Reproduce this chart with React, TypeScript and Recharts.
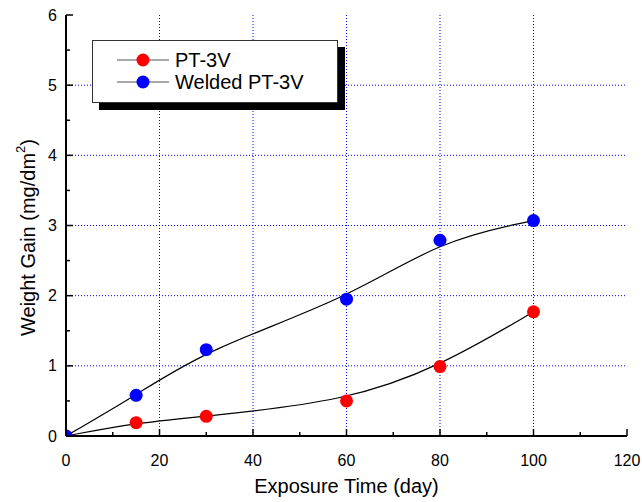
import React from "react";
import { ComposedChart, Line, XAxis, YAxis, ReferenceLine, Legend } from "recharts";

// exposure days and weight gain (mg/dm2)
const days = [0, 15, 30, 60, 80, 100];
const pt3v = [0, 0.19, 0.28, 0.5, 0.99, 1.77];
const weldedPt3v = [0, 0.58, 1.23, 1.95, 2.79, 3.07];

const xTicks = [0, 10, 20, 30, 40, 50, 60, 70, 80, 90, 100, 110, 120];
const yTicks = [0, 0.5, 1, 1.5, 2, 2.5, 3, 3.5, 4, 4.5, 5, 5.5, 6];
const xGrid = [20, 40, 60, 80, 100];
const yGrid = [1, 2, 3, 4, 5];

const series = [
  { key: "pt", name: "PT-3V", color: "#ff0000" },
  { key: "welded", name: "Welded PT-3V", color: "#0000ff" },
];

const data = days.map((d, i) => ({ day: d, pt: pt3v[i], welded: weldedPt3v[i] }));

const FONT = "Arial, 'Liberation Sans', sans-serif";
const AXIS = { stroke: "#000", strokeWidth: 2 };

const isMajorX = (v: number) => v % 20 === 0;
const isMajorY = (v: number) => v % 1 === 0;

const BottomTick = (p: any) => {
  const major = isMajorX(p.payload.value);
  return (
    <g>
      <line x1={p.x} x2={p.x} y1={p.y} y2={p.y - (major ? 7 : 4)} stroke="#000" strokeWidth={1.5} />
      {major && (
        <text x={p.x} y={p.y + 24} textAnchor="middle" dominantBaseline="central" fontSize={16} fontFamily={FONT} fill="#000">
          {p.payload.value}
        </text>
      )}
    </g>
  );
};

const TopTick = (p: any) => {
  const major = isMajorX(p.payload.value);
  return <line x1={p.x} x2={p.x} y1={p.y} y2={p.y + (major ? 7 : 4)} stroke="#000" strokeWidth={1.5} />;
};

const LeftTick = (p: any) => {
  const major = isMajorY(p.payload.value);
  return (
    <g>
      <line x1={p.x} x2={p.x + (major ? 7 : 4)} y1={p.y} y2={p.y} stroke="#000" strokeWidth={1.5} />
      {major && (
        <text x={p.x - 9} y={p.y} textAnchor="end" dominantBaseline="central" fontSize={16} fontFamily={FONT} fill="#000">
          {p.payload.value}
        </text>
      )}
    </g>
  );
};

const RightTick = (p: any) => {
  const major = isMajorY(p.payload.value);
  return <line x1={p.x} x2={p.x - (major ? 7 : 4)} y1={p.y} y2={p.y} stroke="#000" strokeWidth={1.5} />;
};

const XTitle = (p: any) => {
  const vb = p.viewBox;
  return (
    <text x={vb.x + vb.width / 2} y={vb.y + 50} textAnchor="middle" dominantBaseline="central" fontSize={20} fontFamily={FONT} fill="#000">
      Exposure Time (day)
    </text>
  );
};

const YTitle = (p: any) => {
  const vb = p.viewBox;
  const cx = 28;
  const cy = vb.y + vb.height / 2 + 12;
  return (
    <text transform={`translate(${cx},${cy}) rotate(-90)`} textAnchor="middle" dominantBaseline="central" fontSize={20} fontFamily={FONT} fill="#000">
      Weight Gain (mg/dm
      <tspan dy={-8} fontSize={13}>2</tspan>
      <tspan dy={8}>)</tspan>
    </text>
  );
};

const LegendBox = () => (
  <div
    style={{
      width: 246,
      height: 63,
      border: "1px solid #333",
      background: "#fff",
      boxShadow: "7px 7px 0 #000",
      fontFamily: FONT,
      fontSize: 20,
      paddingTop: 8,
      boxSizing: "border-box",
    }}
  >
    {series.map((s) => (
      <div key={s.key} style={{ display: "flex", alignItems: "center", height: 22 }}>
        <svg width={82} height={22}>
          <line x1={24} x2={76} y1={11} y2={11} stroke="#555" strokeWidth={1.2} />
          <circle cx={50} cy={11} r={6.5} fill={s.color} />
        </svg>
        <span>{s.name}</span>
      </div>
    ))}
  </div>
);

export default function App() {
  return (
    <div style={{ position: "absolute", left: 0, top: 0, background: "#fff" }}>
      <ComposedChart width={642} height={502} data={data} margin={{ top: 15, right: 15, bottom: 0, left: 0 }}>
        <XAxis
          xAxisId="bottom"
          dataKey="day"
          type="number"
          domain={[0, 120]}
          allowDataOverflow
          ticks={xTicks}
          interval={0}
          height={66}
          tickSize={0}
          tickMargin={0}
          tickLine={false}
          axisLine={AXIS}
          tick={BottomTick}
          label={{ content: XTitle }}
        />
        <XAxis
          xAxisId="top"
          orientation="top"
          dataKey="day"
          type="number"
          domain={[0, 120]}
          ticks={xTicks}
          interval={0}
          height={0}
          tickSize={0}
          tickMargin={0}
          tickLine={false}
          axisLine={AXIS}
          tick={TopTick}
        />
        <YAxis
          yAxisId="left"
          type="number"
          domain={[0, 6]}
          allowDataOverflow
          ticks={yTicks}
          interval={0}
          width={66}
          tickSize={0}
          tickMargin={0}
          tickLine={false}
          axisLine={AXIS}
          tick={LeftTick}
          label={{ content: YTitle }}
        />
        <YAxis
          yAxisId="right"
          orientation="right"
          type="number"
          domain={[0, 6]}
          ticks={yTicks}
          interval={0}
          width={0}
          tickSize={0}
          tickMargin={0}
          tickLine={false}
          axisLine={AXIS}
          tick={RightTick}
        />
        {xGrid.map((v) => (
          <ReferenceLine key={"x" + v} x={v} xAxisId="bottom" yAxisId="left" stroke="#0000ff" strokeDasharray="1 2" />
        ))}
        {yGrid.map((v) => (
          <ReferenceLine key={"y" + v} y={v} xAxisId="bottom" yAxisId="left" stroke="#0000ff" strokeDasharray="1 2" />
        ))}
        {series.map((s) => (
          <Line
            key={s.key}
            xAxisId="bottom"
            yAxisId="left"
            dataKey={s.key}
            name={s.name}
            type="basis"
            stroke="#000"
            strokeWidth={1.2}
            dot={{ r: 6.5, fill: s.color, stroke: "none" }}
            activeDot={false}
            isAnimationActive={false}
          />
        ))}
        <Legend
          layout="horizontal"
          verticalAlign="middle"
          align="center"
          content={LegendBox}
          wrapperStyle={{ left: 92, top: 40, width: 248, height: 65 }}
        />
      </ComposedChart>
    </div>
  );
}
